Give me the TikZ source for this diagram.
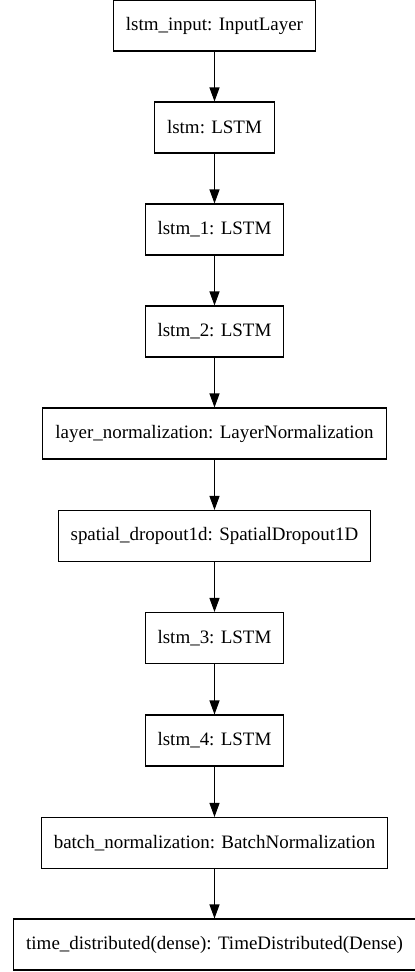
\documentclass[tikz,border=0pt]{standalone}
\usepackage{fontspec}
\setmainfont{Liberation Serif}
\usetikzlibrary{arrows.meta}

\tikzset{
  layer/.style={draw, line width=0.6pt, inner xsep=0.25cm, minimum height=1.02cm,
    font=\fontsize{10.8}{13}\selectfont},
  flow/.style={line width=0.6pt, -{Triangle[length=0.28cm,width=0.2cm]}}
}

\begin{document}
\begin{tikzpicture}[x=0.02cm, y=-0.02cm]

\useasboundingbox (0,0) rectangle (414,972);

\node[layer] (input) at (214.5,25.5) {lstm\_input: InputLayer};
\node[layer] (lstm) at (214.5,127.5) {lstm: LSTM};
\node[layer] (lstmone) at (214.5,229.5) {lstm\_1: LSTM};
\node[layer] (lstmtwo) at (214.5,331.5) {lstm\_2: LSTM};
\node[layer] (layernorm) at (214.5,433.5) {layer\_normalization: LayerNormalization};
\node[layer] (dropout) at (214.5,536) {spatial\_dropout1d: SpatialDropout1D};
\node[layer] (lstmthree) at (214.5,638) {lstm\_3: LSTM};
\node[layer] (lstmfour) at (214.5,740.5) {lstm\_4: LSTM};
\node[layer] (batchnorm) at (214.5,843) {batch\_normalization: BatchNormalization};
\node[layer] (dense) at (214.5,944.5) {time\_distributed(dense): TimeDistributed(Dense)};

\draw[flow] (input) -- (lstm);
\draw[flow] (lstm) -- (lstmone);
\draw[flow] (lstmone) -- (lstmtwo);
\draw[flow] (lstmtwo) -- (layernorm);
\draw[flow] (layernorm) -- (dropout);
\draw[flow] (dropout) -- (lstmthree);
\draw[flow] (lstmthree) -- (lstmfour);
\draw[flow] (lstmfour) -- (batchnorm);
\draw[flow] (batchnorm) -- (dense);

\end{tikzpicture}
\end{document}
